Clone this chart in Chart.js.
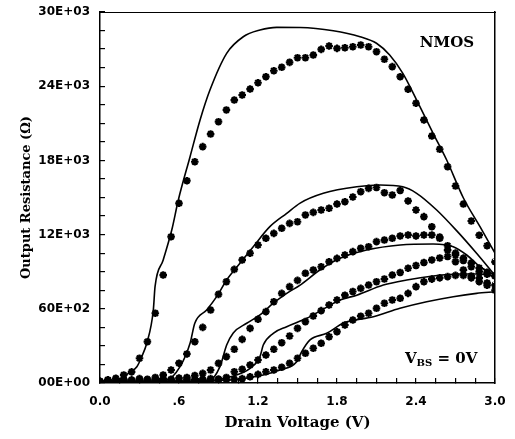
<!DOCTYPE html>
<html>
<head>
<meta charset="utf-8">
<script src="https://cdn.jsdelivr.net/npm/chart.js@4.4.1/dist/chart.umd.min.js"></script>
<style>
  html, body { margin: 0; padding: 0; background: #fff; }
</style>
</head>
<body>
<canvas id="rout" width="515" height="439"></canvas>
<script>
// measured points (asterisks), one every 0.06 V
const vMeas = [0.00, 0.06, 0.12, 0.18, 0.24, 0.30, 0.36, 0.42, 0.48, 0.54,
  0.60, 0.66, 0.72, 0.78, 0.84, 0.90, 0.96, 1.02, 1.08, 1.14,
  1.20, 1.26, 1.32, 1.38, 1.44, 1.50, 1.56, 1.62, 1.68, 1.74,
  1.80, 1.86, 1.92, 1.98, 2.04, 2.10, 2.16, 2.22, 2.28, 2.34,
  2.40, 2.46, 2.52, 2.58, 2.64, 2.70, 2.76, 2.82, 2.88, 2.94, 3.00];

const meas1 = [100, 240, 380, 650, 900, 2000, 3340, 5640, 8730, 11830,
  14530, 16360, 17890, 19110, 20130, 21130, 22080, 22880, 23290, 23770,
  24280, 24770, 25250, 25530, 25930, 26300, 26300, 26520, 26980, 27250,
  27060, 27110, 27190, 27330, 27190, 26790, 26180, 25580, 24770, 23750,
  22620, 21270, 19970, 18900, 17490, 15930, 14470, 13100, 11950, 11100, 9800];
const meas2 = [150, 250, 200, 300, 250, 350, 300, 450, 650, 1050,
  1600, 2350, 3340, 4500, 5900, 7170, 8190, 9190, 9950, 10490,
  11160, 11700, 12100, 12510, 12910, 13040, 13590, 13800, 13990, 14130,
  14470, 14660, 15040, 15470, 15740, 15810, 15390, 15200, 15570, 14720,
  13990, 13450, 12640, 11700, 10750, 9810, 9140, 8650, 8490, 8090, 7920];
const meas3 = [100, 200, 150, 250, 200, 300, 250, 300, 350, 300,
  400, 450, 600, 780, 1050, 1590, 2130, 2730, 3530, 4420,
  5150, 5770, 6570, 7250, 7790, 8300, 8870, 9140, 9400, 9810,
  10080, 10350, 10620, 10890, 11020, 11430, 11560, 11700, 11890, 11970,
  11890, 11970, 11970, 11800, 11100, 10500, 9900, 9400, 9000, 8800, 8700];
const meas4 = [50, 150, 100, 200, 150, 200, 150, 250, 200, 250,
  200, 300, 250, 300, 350, 300, 450, 910, 1110, 1460,
  1860, 2260, 2730, 3260, 3800, 4420, 4960, 5420, 5850, 6310,
  6710, 7100, 7400, 7650, 7920, 8190, 8410, 8730, 8940, 9280,
  9500, 9740, 9950, 10110, 10230, 10350, 10100, 9700, 9300, 8950, 8650];
const meas5 = [50, 100, 50, 150, 100, 150, 100, 200, 150, 200,
  150, 200, 250, 200, 250, 300, 250, 300, 350, 500,
  700, 910, 1050, 1270, 1590, 2000, 2400, 2810, 3210, 3740,
  4150, 4690, 5090, 5400, 5640, 6040, 6450, 6710, 6850, 7250,
  7790, 8190, 8400, 8500, 8600, 8700, 8700, 8500, 8200, 7900, 7500];

// model curves (solid lines)
const model1V = [0, 0.15, 0.215, 0.28, 0.317, 0.355, 0.405, 0.418, 0.48, 0.545, 0.595, 0.684, 0.76, 0.835,
  0.962, 1.088, 1.215, 1.342, 1.52, 1.772, 1.975, 2.10, 2.20, 2.30, 2.405, 2.53, 2.633, 2.76, 2.886, 3.0];
const model1R = [150, 300, 780, 1320, 2130, 3210, 5900, 7790, 9950, 12370, 14800, 18300, 21270, 23690,
  26660, 28000, 28540, 28760, 28750, 28490, 28000, 27470, 26520, 25040, 22880, 20190, 18030, 14960, 12640, 10500];
const model2V = [0, 0.38, 0.506, 0.608, 0.684, 0.72, 0.81, 0.886, 0.962, 1.063, 1.164, 1.29, 1.418, 1.52,
  1.696, 1.95, 2.127, 2.30, 2.405, 2.557, 2.71, 2.86, 3.0];
const model2R = [80, 160, 240, 1320, 3210, 4830, 5900, 6980, 8330, 9680, 11020, 12640, 13720, 14550,
  15340, 15870, 16010, 15870, 15340, 13990, 12300, 10490, 8700];
const model3V = [0, 0.608, 0.835, 0.911, 0.962, 1.012, 1.114, 1.215, 1.316, 1.418, 1.52, 1.67, 1.823,
  2.025, 2.28, 2.53, 2.683, 2.785, 2.886, 3.0];
const model3R = [40, 120, 240, 1320, 3070, 4050, 4830, 5500, 6450, 7250, 7920, 9140, 10080,
  10750, 11160, 11240, 11020, 10350, 9400, 8730];
const model4V = [0, 0.76, 0.99, 1.14, 1.215, 1.24, 1.316, 1.418, 1.57, 1.70, 1.823, 1.95, 2.152,
  2.33, 2.53, 2.734, 2.886, 3.0];
const model4R = [20, 80, 500, 1190, 2130, 3070, 4020, 4550, 5230, 6000, 6710, 7100, 7920,
  8330, 8650, 8810, 8810, 8600];
const model5V = [0, 0.99, 1.24, 1.367, 1.494, 1.532, 1.595, 1.722, 1.85, 2.076, 2.278, 2.481, 2.683, 2.86, 3.0];
const model5R = [0, 240, 650, 1050, 1720, 2530, 3480, 4020, 4850, 5360, 6040, 6570, 6980, 7250, 7380];

const xTickLabels = ["0.0", ".6", "1.2", "1.8", "2.4", "3.0"];
const yTickLabels = ["00E+00", "60E+02", "12E+03", "18E+03", "24E+03", "30E+03"];

const toPoints = (xs, ys) => xs.map((x, i) => ({ x: x, y: ys[i] }));

const models = [[model1V, model1R], [model2V, model2R], [model3V, model3R], [model4V, model4R], [model5V, model5R]];
const measured = [meas1, meas2, meas3, meas4, meas5];

const datasets = [];
models.forEach(([xs, ys]) => {
  datasets.push({
    data: toPoints(xs, ys),
    showLine: true,
    borderColor: "#000",
    borderWidth: 1.6,
    pointRadius: 0,
    cubicInterpolationMode: "monotone",
  });
});
measured.forEach((ys) => {
  datasets.push({
    data: toPoints(vMeas, ys),
    showLine: false,
    pointStyle: "star",
    pointRadius: 3.8,
    borderColor: "#000",
    backgroundColor: "#000",
    pointBorderWidth: 2.2,
  });
});

const serif = "'DejaVu Serif', 'Liberation Serif', serif";
const tickFont = { family: "'DejaVu Sans', sans-serif", size: 12, weight: "bold" };

// in-plot labels
const textPlugin = {
  id: "plotText",
  afterDatasetsDraw(chart) {
    const { ctx, scales } = chart;
    const x = scales.x;
    const y = scales.y;
    ctx.save();
    ctx.fillStyle = "#000";
    ctx.textBaseline = "middle";
    ctx.textAlign = "center";
    ctx.font = "bold 15px " + serif;
    ctx.fillText("NMOS", x.getPixelForValue(2.635), y.getPixelForValue(27490));

    ctx.textBaseline = "alphabetic";
    ctx.textAlign = "left";
    let px = x.getPixelForValue(2.316);
    const py = y.getPixelForValue(1650);
    ctx.font = "bold 15px " + serif;
    ctx.fillText("V", px, py);
    px += ctx.measureText("V").width;
    ctx.font = "bold 10px " + serif;
    ctx.fillText("BS", px, py + 3);
    px += ctx.measureText("BS").width;
    ctx.font = "bold 15px " + serif;
    ctx.fillText(" = 0V", px, py);
    ctx.restore();
  },
};

new Chart(document.getElementById("rout"), {
  type: "scatter",
  data: { datasets: datasets },
  plugins: [textPlugin],
  options: {
    responsive: false,
    animation: false,
    layout: { padding: { left: 0, right: 20, top: 12, bottom: 0 } },
    plugins: {
      legend: { display: false },
      tooltip: { enabled: false },
    },
    scales: {
      x: {
        type: "linear",
        min: 0,
        max: 3.0,
        border: { color: "#000", width: 1.5 },
        grid: { drawOnChartArea: false, tickLength: -5, color: "#000", lineWidth: 1.2 },
        ticks: {
          stepSize: 0.15,
          autoSkip: false,
          maxRotation: 0,
          padding: 17,
          color: "#000",
          font: tickFont,
          callback: (v) => {
            const k = v / 0.6;
            return Math.abs(k - Math.round(k)) < 1e-6 ? xTickLabels[Math.round(k)] : "";
          },
        },
        title: {
          display: true,
          text: "Drain Voltage (V)",
          color: "#000",
          font: { family: serif, size: 15, weight: "bold" },
          padding: { top: 0, bottom: 7 },
        },
        afterFit: (s) => {
          s.height = 56;
          s.paddingLeft = 0;
          s.paddingRight = 0;
        },
      },
      y: {
        type: "linear",
        min: 0,
        max: 30000,
        border: { color: "#000", width: 1.5 },
        grid: { drawOnChartArea: false, tickLength: -5, color: "#000", lineWidth: 1.2 },
        ticks: {
          stepSize: 1500,
          autoSkip: false,
          padding: 15,
          color: "#000",
          font: tickFont,
          callback: (v) => (v % 6000 === 0 ? yTickLabels[v / 6000] : ""),
        },
        title: {
          display: true,
          text: "Output Resistance (Ω)",
          color: "#000",
          font: { family: serif, size: 13, weight: "bold" },
          padding: { top: 19, bottom: 0 },
        },
        afterFit: (s) => {
          s.width = 100;
          s.paddingTop = 0;
          s.paddingBottom = 0;
        },
      },
      x2: {
        type: "linear",
        position: "top",
        min: 0,
        max: 3.0,
        grid: { display: false },
        ticks: { display: false },
        border: { color: "#000", width: 1 },
        afterFit: (s) => {
          s.height = 0;
          s.paddingLeft = 0;
          s.paddingRight = 0;
        },
      },
      y2: {
        type: "linear",
        position: "right",
        min: 0,
        max: 30000,
        grid: { display: false },
        ticks: { display: false },
        border: { color: "#000", width: 1.5 },
        afterFit: (s) => {
          s.width = 0;
          s.paddingTop = 0;
          s.paddingBottom = 0;
        },
      },
    },
  },
});
</script>
</body>
</html>
